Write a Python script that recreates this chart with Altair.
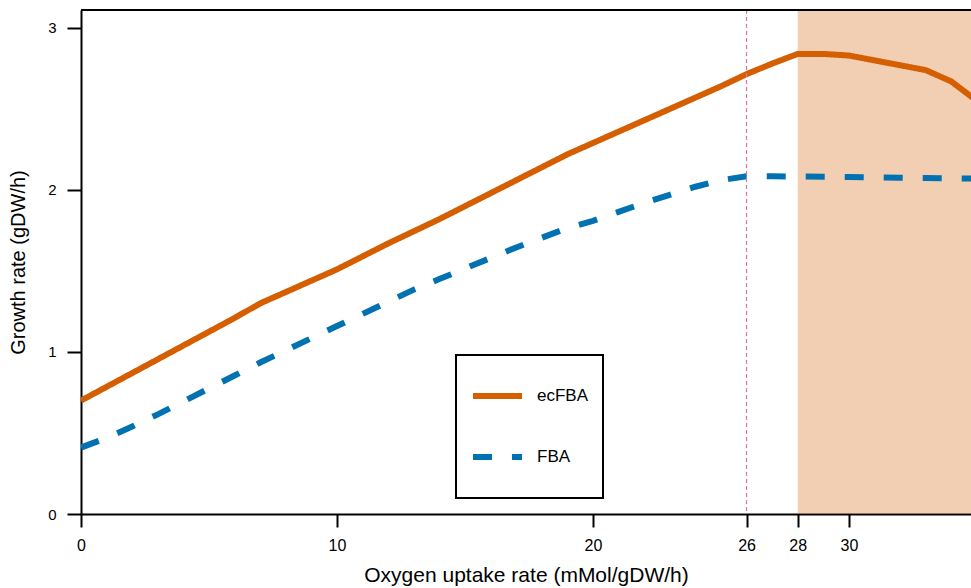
import altair as alt
import pandas as pd

# ---- data ----
oxygen = list(range(36))
ecfba = [0.70, 0.785, 0.87, 0.955, 1.04, 1.125, 1.21, 1.30, 1.37, 1.44,
         1.51, 1.59, 1.67, 1.745, 1.82, 1.90, 1.98, 2.06, 2.14, 2.22,
         2.29, 2.36, 2.43, 2.50, 2.57, 2.64, 2.715, 2.78, 2.84, 2.84,
         2.83, 2.80, 2.77, 2.74, 2.67, 2.55]
fba = [0.41, 0.47, 0.54, 0.615, 0.695, 0.775, 0.855, 0.935, 1.01, 1.085,
       1.16, 1.235, 1.31, 1.385, 1.45, 1.515, 1.58, 1.645, 1.705, 1.765,
       1.81, 1.865, 1.92, 1.97, 2.02, 2.06, 2.085, 2.085, 2.083, 2.082,
       2.08, 2.078, 2.076, 2.074, 2.072, 2.07]
series_names = ["ecFBA", "FBA"]
series_colors = ["#D55E00", "#0072B2"]
series_dashes = [[1, 0], [19, 20]]
x_ticks = [0, 10, 20, 26, 28, 30]
y_ticks = [0, 1, 2, 3]
marker_x = [26]
shade_start = [28]
shade_end = [35]
x_domain = [0, 34.77]
y_domain = [0, 3.111]

df = pd.DataFrame({
    "x": oxygen * 2,
    "y": ecfba + fba,
    "series": [series_names[0]] * len(oxygen) + [series_names[1]] * len(oxygen),
})

xs = alt.Scale(domain=x_domain, nice=False, zero=False)
ys = alt.Scale(domain=y_domain, nice=False, zero=False)

x_axis = alt.Axis(values=x_ticks, title="Oxygen uptake rate (mMol/gDW/h)",
                  tickSize=13, labelPadding=10, titlePadding=11,
                  labelFontSize=16, labelFlush=False, titleFontSize=21)
y_axis = alt.Axis(values=y_ticks, title="Growth rate (gDW/h)",
                  tickSize=14, labelPadding=11, titlePadding=19,
                  labelFontSize=15, titleFontSize=20)

shade = alt.Chart(pd.DataFrame({"start": shade_start, "end": shade_end})).mark_rect(
    color="#D55E00", opacity=0.3, clip=True
).encode(
    x=alt.X("start:Q", scale=xs, axis=x_axis),
    x2="end:Q",
)

legend = alt.Legend(
    title=None, orient="none", legendX=375, legendY=345,
    symbolType="stroke", symbolSize=2401, symbolStrokeWidth=6,
    labelFontSize=17, labelOffset=12, padding=14, rowPadding=7,
    clipHeight=54, strokeColor="black",
)

lines = alt.Chart(df).mark_line(strokeWidth=6, clip=True, strokeCap="butt").encode(
    x=alt.X("x:Q", scale=xs, axis=x_axis),
    y=alt.Y("y:Q", scale=ys, axis=y_axis),
    color=alt.Color("series:N", scale=alt.Scale(domain=series_names, range=series_colors),
                    legend=legend),
    strokeDash=alt.StrokeDash("series:N", scale=alt.Scale(domain=series_names, range=series_dashes),
                              legend=legend),
)

marker = alt.Chart(pd.DataFrame({"x": marker_x})).mark_rule(
    color="#D96FAE", strokeDash=[4, 3], strokeWidth=1.2
).encode(x=alt.X("x:Q", scale=xs, axis=x_axis))

frame_top = alt.Chart(pd.DataFrame({"a": [0]})).mark_rule(
    color="black", strokeWidth=2
).encode(y=alt.value(0))

chart = alt.layer(shade, lines, marker, frame_top).properties(
    width=890, height=504,
    autosize=alt.AutoSizeParams(type="none"),
    padding={"left": 81, "top": 10, "right": 0, "bottom": 74},
).configure_view(stroke=None).configure_axis(
    domainColor="black", domainWidth=2, tickColor="black", tickWidth=2,
    labelFont="Liberation Sans", labelColor="black",
    titleFont="Liberation Sans", titleFontWeight="normal",
    titleColor="black", grid=False,
).configure_legend(
    labelFont="Liberation Sans", labelColor="black", strokeWidth=2, fillColor="white",
)

chart.save("out.html", embed_options={"renderer": "svg", "actions": False})
